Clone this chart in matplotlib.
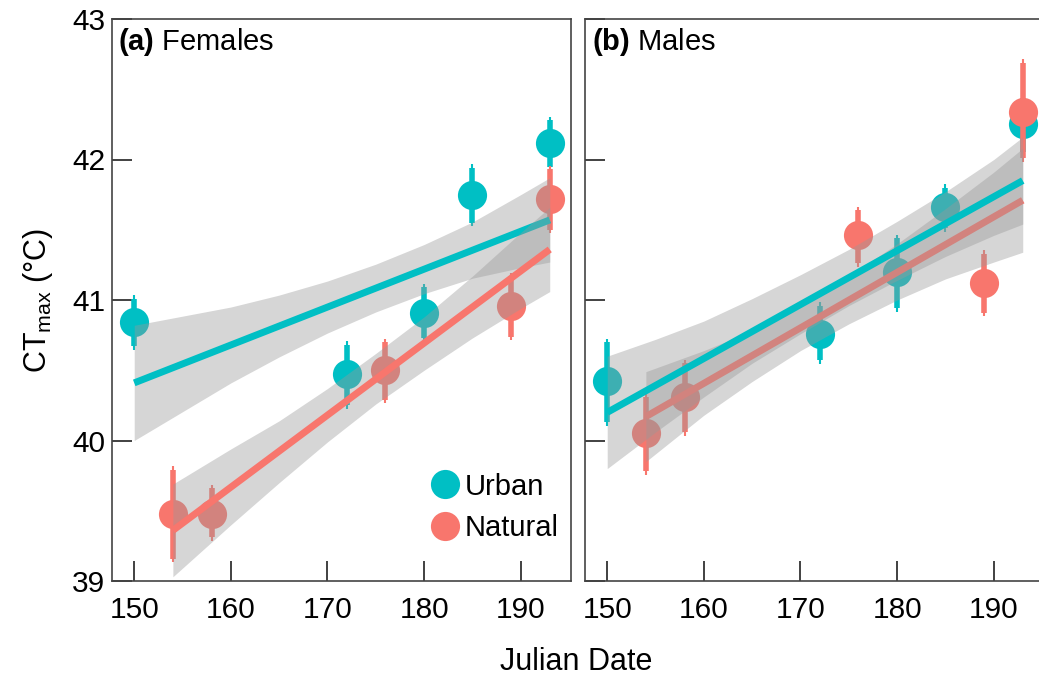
import matplotlib
matplotlib.use("Agg")
import matplotlib.pyplot as plt
from matplotlib.lines import Line2D

plt.rcParams['font.family'] = ['Liberation Sans', 'DejaVu Sans']
plt.rcParams['mathtext.fontset'] = 'custom'
plt.rcParams['mathtext.rm'] = 'Liberation Sans'
plt.rcParams['mathtext.bf'] = 'Liberation Sans:bold'

URBAN = '#00BFC4'
NATURAL = '#F8766D'

# ---- means + error ranges
f_urb_day = [150, 172, 180, 185, 193]
f_urb_mean = [40.84, 40.47, 40.91, 41.75, 42.12]
f_urb_lo = [40.67, 40.25, 40.73, 41.55, 41.95]
f_urb_hi = [41.01, 40.68, 41.09, 41.94, 42.28]

f_nat_day = [154, 158, 176, 189, 193]
f_nat_mean = [39.48, 39.48, 40.50, 40.96, 41.72]
f_nat_lo = [39.16, 39.31, 40.29, 40.74, 41.50]
f_nat_hi = [39.79, 39.66, 40.70, 41.17, 41.93]

m_urb_day = [150, 172, 180, 185, 193]
m_urb_mean = [40.42, 40.76, 41.20, 41.66, 42.25]
m_urb_lo = [40.13, 40.57, 40.94, 41.51, 42.05]
m_urb_hi = [40.70, 40.96, 41.44, 41.80, 42.44]

m_nat_day = [154, 158, 176, 189, 193]
m_nat_mean = [40.05, 40.31, 41.46, 41.12, 42.34]
m_nat_lo = [39.78, 40.06, 41.26, 40.91, 42.01]
m_nat_hi = [40.31, 40.55, 41.64, 41.33, 42.69]

# ---- fitted lines and their confidence bands
f_urb_fit_day = [150, 193]
f_urb_fit = [40.41, 41.57]
f_urb_band_day = [150, 155, 160, 165, 170, 175, 180, 185, 190, 193]
f_urb_band_lo = [40.00, 40.205, 40.41, 40.595, 40.765, 40.915, 41.045, 41.155, 41.23, 41.27]
f_urb_band_hi = [40.82, 40.885, 40.95, 41.035, 41.135, 41.255, 41.395, 41.555, 41.75, 41.87]

f_nat_fit_day = [154, 193]
f_nat_fit = [39.36, 41.36]
f_nat_band_day = [154, 160, 165, 170, 175, 180, 185, 190, 193]
f_nat_band_lo = [39.03, 39.40, 39.70, 39.99, 40.26, 40.50, 40.73, 40.94, 41.06]
f_nat_band_hi = [39.69, 39.94, 40.14, 40.37, 40.62, 40.88, 41.17, 41.48, 41.66]

m_urb_fit_day = [150, 193]
m_urb_fit = [40.20, 41.85]
m_urb_band_day = [150, 155, 160, 165, 170, 175, 180, 185, 190, 193]
m_urb_band_lo = [39.80, 40.06, 40.31, 40.55, 40.76, 40.96, 41.14, 41.31, 41.46, 41.54]
m_urb_band_hi = [40.60, 40.72, 40.85, 41.01, 41.18, 41.36, 41.56, 41.77, 42.00, 42.16]

m_nat_fit_day = [154, 193]
m_nat_fit = [40.17, 41.71]
m_nat_band_day = [154, 160, 165, 170, 175, 180, 185, 190, 193]
m_nat_band_lo = [39.85, 40.18, 40.42, 40.64, 40.83, 41.00, 41.15, 41.27, 41.34]
m_nat_band_hi = [40.49, 40.64, 40.78, 40.96, 41.17, 41.40, 41.65, 41.91, 42.08]

xticks = [150, 160, 170, 180, 190]
yticks = [39, 40, 41, 42, 43]


def draw_points(ax, day, mean, lo, hi, col):
    tip = 0.025
    ax.vlines(day, [v - tip for v in lo], [v + tip for v in hi], color=col, lw=1.5, zorder=2)
    ax.vlines(day, lo, hi, color=col, lw=4, zorder=2)
    ax.plot(day, mean, 'o', color=col, ms=21, mec='none', zorder=2)


def draw_fit(ax, bday, blo, bhi, fday, fit, col, z):
    ax.fill_between(bday, blo, bhi, color='#999999', alpha=0.4, lw=0, zorder=z)
    ax.plot(fday, fit, color=col, lw=5, solid_capstyle='butt', zorder=z + 0.5)


def style(ax, show_y):
    ax.set_xlim(147.7, 195.2)
    ax.set_ylim(39, 43)
    ax.set_xticks(xticks)
    ax.set_yticks(yticks)
    ax.tick_params(direction='in', length=14.5, width=1.3, color='#333333',
                   labelsize=21.5, pad=11)
    ax.tick_params(axis='y', pad=5, labelleft=show_y)
    for s in ax.spines.values():
        s.set_color('#444444')
        s.set_linewidth(1.2)


fig = plt.figure(figsize=(10.39, 6.86), dpi=100)
ax1 = fig.add_axes([112 / 1039, 1 - 581 / 686, 459 / 1039, 562 / 686])
ax2 = fig.add_axes([585 / 1039, 1 - 581 / 686, 459 / 1039, 562 / 686])

# females: urban fit drawn first, natural on top
draw_points(ax1, f_urb_day, f_urb_mean, f_urb_lo, f_urb_hi, URBAN)
draw_points(ax1, f_nat_day, f_nat_mean, f_nat_lo, f_nat_hi, NATURAL)
draw_fit(ax1, f_urb_band_day, f_urb_band_lo, f_urb_band_hi, f_urb_fit_day, f_urb_fit, URBAN, 3)
draw_fit(ax1, f_nat_band_day, f_nat_band_lo, f_nat_band_hi, f_nat_fit_day, f_nat_fit, NATURAL, 4)

# males: natural fit first, urban on top
draw_points(ax2, m_urb_day, m_urb_mean, m_urb_lo, m_urb_hi, URBAN)
draw_points(ax2, m_nat_day, m_nat_mean, m_nat_lo, m_nat_hi, NATURAL)
draw_fit(ax2, m_nat_band_day, m_nat_band_lo, m_nat_band_hi, m_nat_fit_day, m_nat_fit, NATURAL, 3)
draw_fit(ax2, m_urb_band_day, m_urb_band_lo, m_urb_band_hi, m_urb_fit_day, m_urb_fit, URBAN, 4)

style(ax1, True)
style(ax2, False)

ax1.text(0.012, 0.988, r'$\bf{(a)}$ Females', transform=ax1.transAxes,
         fontsize=21, va='top', ha='left')
ax2.text(0.016, 0.988, r'$\bf{(b)}$ Males', transform=ax2.transAxes,
         fontsize=21, va='top', ha='left')

handles = [Line2D([], [], marker='o', ls='none', color=URBAN, ms=21, mec='none'),
           Line2D([], [], marker='o', ls='none', color=NATURAL, ms=21, mec='none')]
ax1.legend(handles, ['Urban', 'Natural'], loc='lower left', bbox_to_anchor=(0.693, 0.069),
           frameon=False, fontsize=21, handlelength=1.0, handletextpad=0.2,
           labelspacing=0.47, borderpad=0, borderaxespad=0)

ax1.set_ylabel(r'CT$_{\rm max}$ (°C)', fontsize=22, labelpad=12)
fig.text(576 / 1039, 1 - 662 / 686, 'Julian Date', fontsize=22, ha='center', va='center')

fig.savefig('out.png', dpi=100)
